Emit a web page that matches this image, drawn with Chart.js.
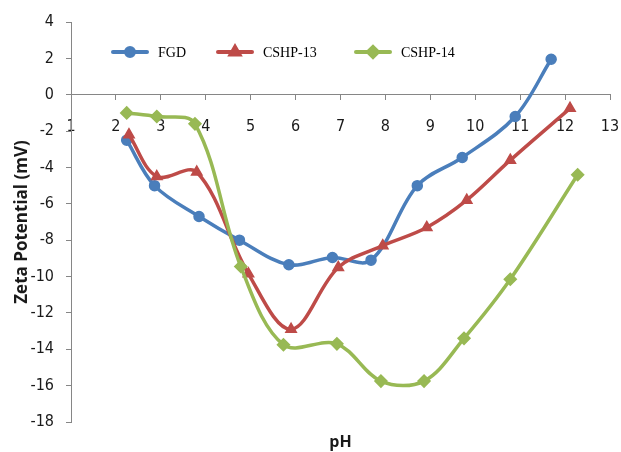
<!DOCTYPE html>
<html>
<head>
<meta charset="utf-8">
<script src="https://cdn.jsdelivr.net/npm/chart.js@4/dist/chart.umd.min.js"></script>
<style>
  html, body { margin: 0; padding: 0; background: #ffffff; }
  #wrap { width: 621px; height: 452px; position: relative; }
</style>
</head>
<body>
<div id="wrap"><canvas id="chart"></canvas></div>
<script>
// Zeta potential (mV) versus pH for three samples
const seriesNames = ['FGD', 'CSHP-13', 'CSHP-14'];

const phFGD   = [2.24, 2.86, 3.85, 4.75, 5.85, 6.82, 7.68, 8.71, 9.71, 10.89, 11.69];
const zetaFGD = [-2.5, -5.0, -6.7, -8.0, -9.35, -8.95, -9.1, -5.0, -3.45, -1.2, 1.95];

const phCSHP13   = [2.29, 2.91, 3.8, 4.95, 5.9, 6.95, 7.94, 8.92, 9.81, 10.78, 12.11];
const zetaCSHP13 = [-2.2, -4.5, -4.25, -9.85, -12.9, -9.5, -8.3, -7.3, -5.8, -3.6, -0.75];

const phCSHP14   = [2.24, 2.91, 3.76, 4.78, 5.73, 6.92, 7.9, 8.86, 9.75, 10.78, 12.28];
const zetaCSHP14 = [-1.0, -1.2, -1.6, -9.45, -13.75, -13.7, -15.75, -15.75, -13.4, -10.15, -4.4];

const xTickValues = [1, 2, 3, 4, 5, 6, 7, 8, 9, 10, 11, 12, 13];
const yTickValues = [4, 2, 0, -2, -4, -6, -8, -10, -12, -14, -16, -18];

const colors = ['#4a7ebb', '#be4b48', '#98b954'];
const pointStyles = ['circle', 'triangle', 'rectRot'];
const pointRadii = [5, 6, 6];

const toPoints = (xs, ys) => xs.map((x, i) => ({ x: x, y: ys[i] }));
const seriesData = [
  toPoints(phFGD, zetaFGD),
  toPoints(phCSHP13, zetaCSHP13),
  toPoints(phCSHP14, zetaCSHP14)
];

const tickFont = { family: '"Liberation Sans Narrow", "DejaVu Sans Condensed", "Open Sans", sans-serif', size: 16 };
const axisGrey = '#868686';

// Legend drawn inside the plot area, one entry per dataset
const legendX = [113, 218, 356];
const legendY = 52;
const insideLegend = {
  id: 'insideLegend',
  afterDraw(chart) {
    const ctx = chart.ctx;
    ctx.save();
    chart.data.datasets.forEach((ds, i) => {
      const x0 = legendX[i];
      ctx.strokeStyle = ds.borderColor;
      ctx.lineWidth = 4;
      ctx.lineCap = 'round';
      ctx.beginPath();
      ctx.moveTo(x0, legendY);
      ctx.lineTo(x0 + 34, legendY);
      ctx.stroke();
      Chart.helpers.drawPoint(ctx, {
        pointStyle: ds.pointStyle,
        radius: ds.pointRadius - 1,
        borderWidth: 1,
        rotation: 0
      }, x0 + 17, legendY);
      ctx.fillStyle = ds.backgroundColor;
      ctx.fill();
      ctx.fillStyle = '#000000';
      ctx.font = '14px "Liberation Serif", "Times New Roman", serif';
      ctx.textBaseline = 'middle';
      ctx.textAlign = 'left';
      ctx.fillText(ds.label, x0 + 45, legendY + 1);
    });
    ctx.restore();
  }
};

new Chart(document.getElementById('chart'), {
  type: 'scatter',
  data: {
    datasets: seriesNames.map((name, i) => ({
      label: name,
      data: seriesData[i],
      showLine: true,
      tension: 0.35,
      borderColor: colors[i],
      backgroundColor: colors[i],
      borderWidth: 3.5,
      pointStyle: pointStyles[i],
      pointRadius: pointRadii[i],
      pointBorderWidth: 1.5,
      pointBackgroundColor: colors[i],
      pointBorderColor: colors[i],
      order: 2 - i,
      clip: false
    }))
  },
  options: {
    responsive: true,
    maintainAspectRatio: false,
    animation: false,
    layout: { padding: { top: 22, right: 11, bottom: 0, left: 0 } },
    plugins: {
      legend: { display: false },
      tooltip: { enabled: false }
    },
    scales: {
      x: {
        type: 'linear',
        position: { y: 0 },
        min: 1,
        max: 13,
        afterBuildTicks: (scale) => { scale.ticks = xTickValues.map(v => ({ value: v })); },
        afterFit: (scale) => { scale.paddingLeft = 0; scale.paddingRight = 0; },
        grid: { display: true, drawOnChartArea: false, drawTicks: true, tickLength: 5, color: axisGrey },
        border: { display: true, color: axisGrey, width: 1 },
        ticks: { font: tickFont, color: '#1a1a1a', padding: 18, maxRotation: 0, autoSkip: false }
      },
      xTitle: {
        type: 'linear',
        position: 'bottom',
        min: 1,
        max: 13,
        grid: { display: false },
        border: { display: false },
        ticks: { display: false },
        afterFit: (scale) => { scale.height = 30; scale.paddingLeft = 0; scale.paddingRight = 0; },
        title: {
          display: true,
          text: 'pH',
          color: '#1a1a1a',
          font: { family: '"Open Sans", sans-serif', size: 16, weight: 'bold' },
          padding: { top: 12, bottom: 0 }
        }
      },
      y: {
        type: 'linear',
        min: -18,
        max: 4,
        afterBuildTicks: (scale) => { scale.ticks = yTickValues.map(v => ({ value: v })); },
        afterFit: (scale) => { scale.width = 71; },
        grid: { display: true, drawOnChartArea: false, drawTicks: true, tickLength: 5, color: axisGrey },
        border: { display: true, color: axisGrey, width: 1 },
        ticks: { font: tickFont, color: '#1a1a1a', padding: 12 },
        title: {
          display: true,
          text: 'Zeta Potential (mV)',
          color: '#1a1a1a',
          font: { family: '"Open Sans", sans-serif', size: 17, weight: 'bold' },
          padding: { top: 12, bottom: 0 }
        }
      }
    }
  },
  plugins: [insideLegend]
});
</script>
</body>
</html>
